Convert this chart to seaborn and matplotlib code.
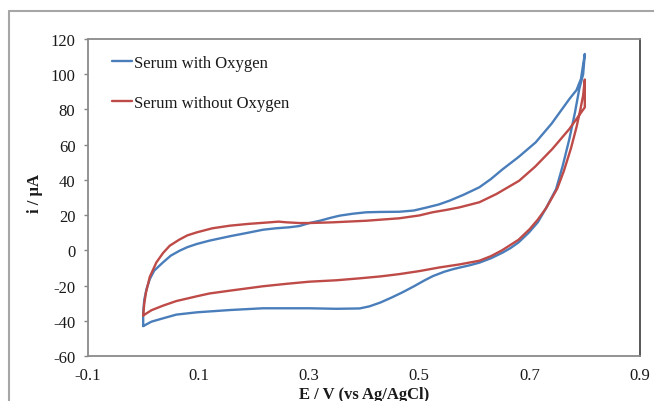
import numpy as np
import pandas as pd
import matplotlib
matplotlib.use("Agg")
import matplotlib.pyplot as plt
import seaborn as sns
from matplotlib.lines import Line2D

# ---- data ----
series_names = ["Serum with Oxygen", "Serum without Oxygen"]

blue_E = [0.0, 0.0, 0.002, 0.006, 0.012, 0.02, 0.036, 0.05, 0.066, 0.08, 0.097, 0.12,
          0.157, 0.19, 0.217, 0.24, 0.265, 0.283, 0.301, 0.32, 0.34, 0.356, 0.38, 0.404, 0.43,
          0.464, 0.49, 0.512, 0.535, 0.555, 0.58, 0.609, 0.63, 0.651, 0.68, 0.711, 0.74,
          0.772, 0.785, 0.793,
          0.8,
          0.797, 0.79, 0.782, 0.772, 0.76, 0.748, 0.729, 0.715, 0.699, 0.68, 0.665, 0.651, 0.63,
          0.609, 0.59, 0.573, 0.56, 0.545, 0.525, 0.51, 0.49, 0.47, 0.45, 0.43, 0.41, 0.392,
          0.35, 0.301, 0.26, 0.217, 0.157, 0.097, 0.06, 0.036, 0.015, 0.0]
blue_i = [-43, -35, -28, -22, -16.3, -11.5, -6.8, -3, -0.2, 1.8, 3.6, 5.5,
          8, 10, 11.7, 12.5, 13.1, 13.8, 15.5, 16.8, 18.5, 19.7, 20.8, 21.6, 21.8,
          21.9, 22.6, 24.2, 26, 28.2, 31.5, 35.8, 40.5, 46, 53, 61.3, 72,
          85.9, 91, 97.3,
          111.5,
          100, 91.6, 78, 63.2, 48, 34.8, 23.5, 16, 10.2, 4.5, 1.2, -1.3, -4.5,
          -7.0, -8.6, -9.8, -10.8, -12.2, -14.6, -17.0, -20.5, -23.8, -26.8, -29.6, -31.8, -33.0,
          -33.2, -32.9, -32.9, -32.9, -33.9, -35.2, -36.5, -38.6, -40.5, -43]

red_E = [0.0, 0.002, 0.005, 0.012, 0.024, 0.036, 0.048, 0.065, 0.08, 0.097, 0.125,
         0.157, 0.19, 0.229, 0.245, 0.26, 0.283, 0.301, 0.343, 0.404, 0.464, 0.5,
         0.524, 0.55, 0.573, 0.609, 0.64, 0.681, 0.71, 0.741, 0.772, 0.8,
         0.8,
         0.797, 0.792, 0.785, 0.775, 0.762, 0.75, 0.73, 0.715, 0.70, 0.68, 0.65, 0.63,
         0.609, 0.573, 0.537, 0.5, 0.464, 0.43, 0.392, 0.35, 0.301, 0.26, 0.217, 0.157,
         0.12, 0.097, 0.06, 0.036, 0.015, 0.0]
red_i = [-37, -30, -24, -15, -6.8, -1.5, 2.6, 6, 8.5, 10.2, 12.5,
         14, 15, 15.9, 16.3, 15.9, 15.5, 15.5, 15.9, 16.8, 18.2, 19.8,
         21.6, 23, 24.4, 27.3, 32, 39.5, 47.5, 57.5, 68.9, 81.2,
         97,
         88, 80, 70, 58, 45, 35, 24, 17.5, 12, 6, 0, -3.3,
         -5.9, -8, -9.7, -11.8, -13.5, -14.8, -15.9, -17, -17.8, -19, -20.4, -22.9,
         -24.5, -26.1, -28.8, -31.4, -34, -37]

x_ticks = [-0.1, 0.1, 0.3, 0.5, 0.7, 0.9]
x_tick_labels = ["-0.1", "0.1", "0.3", "0.5", "0.7", "0.9"]
y_ticks = [-60, -40, -20, 0, 20, 40, 60, 80, 100, 120]
y_tick_labels = ["-60", "-40", "-20", "0", "20", "40", "60", "80", "100", "120"]

colors = ["#4A7EBB", "#BE4B48"]

# ---- build table ----
df = pd.concat([
    pd.DataFrame({"E": blue_E, "i": blue_i, "series": series_names[0],
                  "order": np.arange(len(blue_E))}),
    pd.DataFrame({"E": red_E, "i": red_i, "series": series_names[1],
                  "order": np.arange(len(red_E))}),
], ignore_index=True)

sns.set_theme(style="white")
plt.rcParams["font.family"] = ["Liberation Serif", "DejaVu Serif"]
plt.rcParams["axes.unicode_minus"] = False

fig = plt.figure(figsize=(6.54, 4.02), dpi=100)
ax = fig.add_axes([88/654, 1 - 357/402, (640-88)/654, (357-40)/402])

for name, col in zip(series_names, colors):
    sub = df[df["series"] == name]
    sns.lineplot(data=sub, x="E", y="i", sort=False, estimator=None, color=col,
                 linewidth=1.7, ax=ax, label=name)
for ln in ax.get_lines():
    ln.set_solid_joinstyle("round")

ax.set_xlim(-0.1, 0.9)
ax.set_ylim(-60, 120)
ax.set_xticks(x_ticks)
ax.set_xticklabels(x_tick_labels)
ax.set_yticks(y_ticks)
ax.set_yticklabels(y_tick_labels)
ax.tick_params(axis="y", direction="out", length=3, width=1, color="#868686",
               labelsize=12, pad=6, left=True)
ax.tick_params(axis="x", length=0, labelsize=12, pad=8, bottom=False)
for lab in ax.get_xticklabels() + ax.get_yticklabels():
    lab.set_color("#1a1a1a")

for side in ["left", "bottom", "top"]:
    ax.spines[side].set_color("#8a8a8a")
    ax.spines[side].set_linewidth(1.3)
ax.spines["right"].set_color("#4a4a4a")
ax.spines["right"].set_linewidth(1.3)

ax.set_xlabel("")
ax.set_ylabel("")
fig.text(364/654, 1 - 395/402, "E / V (vs Ag/AgCl)", ha="center", va="center",
         fontsize=12, fontweight="bold", color="#1a1a1a")
fig.text(35/654, 1 - 194/402, "i / µA", ha="center", va="center", rotation=90,
         fontsize=12, fontweight="bold", color="#1a1a1a")

leg = ax.legend(loc="upper left", bbox_to_anchor=(112/654, 1 - 56/402),
                bbox_transform=fig.transFigure, frameon=False, fontsize=12,
                handlelength=1.2, handletextpad=0.1, labelspacing=1.45,
                borderpad=0, borderaxespad=0)
for t in leg.get_texts():
    t.set_color("#1a1a1a")

# outer chart frame
fig.add_artist(Line2D([9/654, 9/654], [0, 1 - 12/402], transform=fig.transFigure,
                      color="#a6a6a6", linewidth=1.5))
fig.add_artist(Line2D([9/654, 1], [1 - 12/402, 1 - 12/402], transform=fig.transFigure,
                      color="#a6a6a6", linewidth=1.5))

fig.savefig("out.png", dpi=100)
